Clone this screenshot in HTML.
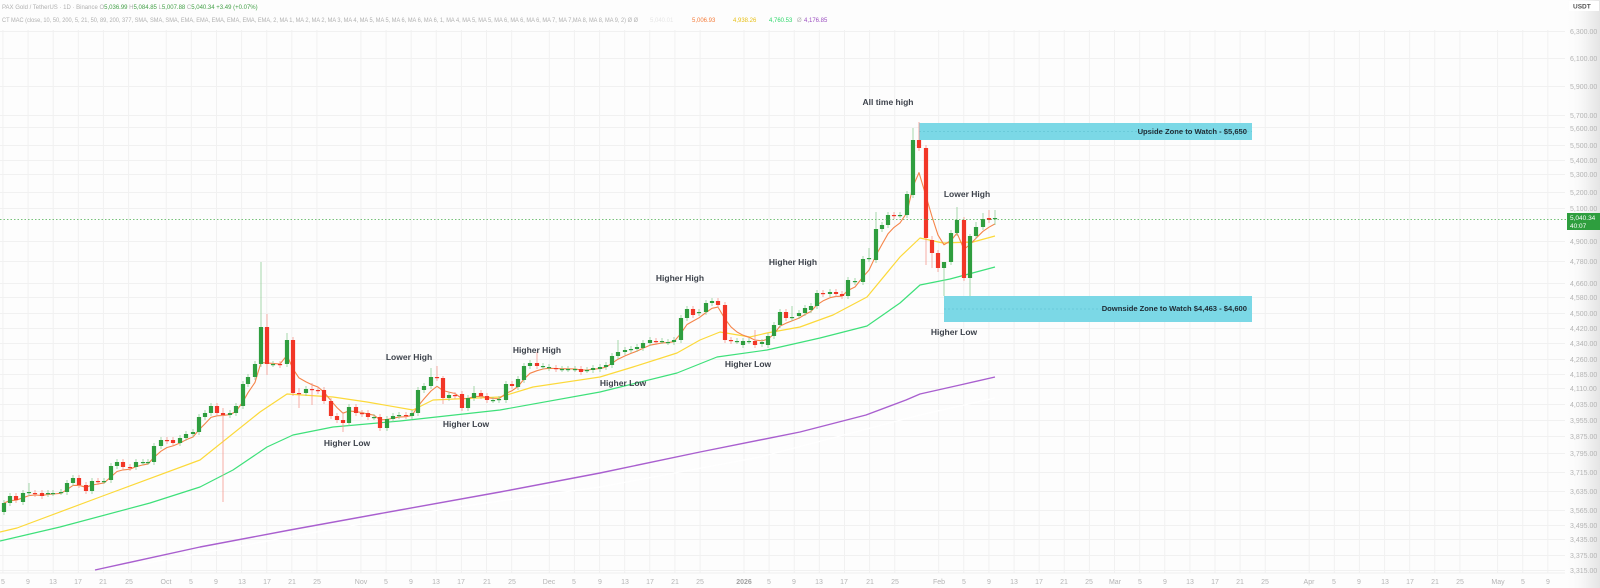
<!DOCTYPE html>
<html><head><meta charset="utf-8">
<style>
html,body{margin:0;padding:0;background:#fdfdfd;}
svg{display:block;font-family:"Liberation Sans",sans-serif;}
.ax{font-size:7px;fill:#b4b4b4;}
.dt{font-size:7px;fill:#b4b4b4;text-anchor:middle;}
.an{font-size:8.5px;fill:#3d424b;font-weight:bold;text-anchor:middle;}
.zn{font-size:7.6px;fill:#1e2a33;font-weight:bold;text-anchor:end;}
.hd{font-size:6px;fill:#b0b0b0;}
</style></head><body>
<svg id="s" width="1600" height="588" viewBox="0 0 1600 588" xmlns="http://www.w3.org/2000/svg">
<defs><linearGradient id="g" x1="0" x2="1"><stop offset="0" stop-color="#fdfdfd" stop-opacity="0"/><stop offset="0.6" stop-color="#f3f3f3"/><stop offset="1" stop-color="#e4e4e4"/></linearGradient></defs>
<rect width="1600" height="588" fill="#fdfdfd"/>
<g id="grid" stroke="#f1f1f1" stroke-width="1"></g>
<line x1="0" y1="573" x2="1565" y2="573" stroke="#eeeeee"/>
<rect x="1565" y="0" width="35" height="588" fill="url(#g)"/>

<rect x="919" y="123" width="333" height="17" fill="#7bd8e6"/>
<line x1="919" y1="131.5" x2="1252" y2="131.5" stroke="#5bbccc" stroke-dasharray="2,2" stroke-width="0.6"/>
<rect x="944" y="296" width="308" height="26" fill="#7bd8e6"/>
<line x1="944" y1="309" x2="1252" y2="309" stroke="#5bbccc" stroke-dasharray="2,2" stroke-width="0.6"/>

<g id="lines" fill="none"></g>
<g id="candles"></g>

<line x1="0" y1="219.5" x2="1567" y2="219.5" stroke="#4caf50" stroke-dasharray="1.5,2" stroke-width="0.7"/>

<text class="zn" x="1247" y="134">Upside Zone to Watch - $5,650</text>
<text class="zn" x="1247" y="311">Downside Zone to Watch $4,463 - $4,600</text>

<text class="an" x="888" y="105">All time high</text>
<text class="an" x="967" y="197">Lower High</text>
<text class="an" x="954" y="335">Higher Low</text>
<text class="an" x="793" y="265">Higher High</text>
<text class="an" x="680" y="281">Higher High</text>
<text class="an" x="537" y="353">Higher High</text>
<text class="an" x="409" y="360">Lower High</text>
<text class="an" x="623" y="386">Higher Low</text>
<text class="an" x="748" y="367">Higher Low</text>
<text class="an" x="466" y="427">Higher Low</text>
<text class="an" x="347" y="446">Higher Low</text>

<text class="hd" x="2" y="9">PAX Gold / TetherUS · 1D · Binance  O<tspan style="fill:#43a047">5,036.99</tspan> H<tspan style="fill:#43a047">5,084.85</tspan> L<tspan style="fill:#43a047">5,007.88</tspan> C<tspan style="fill:#43a047">5,040.34</tspan> <tspan style="fill:#43a047">+3.49 (+0.07%)</tspan></text>
<text class="hd" x="2" y="22" textLength="636" lengthAdjust="spacingAndGlyphs">CT MAC (close, 10, 50, 200, 5, 21, 50, 89, 200, 377, SMA, SMA, SMA, EMA, EMA, EMA, EMA, EMA, EMA, 2, MA 1, MA 2, MA 2, MA 3, MA 4, MA 5, MA 5, MA 6, MA 6, MA 6, 1, MA 4, MA 5, MA 5, MA 6, MA 6, MA 6, MA 7, MA 7,MA 8, MA 8, MA 9, 2)  Ø  Ø</text>
<text class="hd" x="650" y="22" style="fill:#e6e6e6">5,040.01</text>
<text class="hd" x="692" y="22" style="fill:#f57c3a">5,006.93</text>
<text class="hd" x="733" y="22" style="fill:#e8c018">4,938.26</text>
<text class="hd" x="769" y="22" style="fill:#2ed86a">4,760.53</text>
<text class="hd" x="797" y="22">Ø</text>
<text class="hd" x="804" y="22" style="fill:#9c4fc0">4,176.85</text>

<rect x="1569" y="1" width="30" height="10" fill="#ffffff"/>
<text x="1573" y="8.5" style="font-size:6.5px;fill:#555;font-weight:bold">USDT</text>
<g class="ax">
<text x="1570" y="34">6,300.00</text>
<text x="1570" y="61">6,100.00</text>
<text x="1570" y="89">5,900.00</text>
<text x="1570" y="118">5,700.00</text>
<text x="1570" y="131">5,600.00</text>
<text x="1570" y="148">5,500.00</text>
<text x="1570" y="163">5,400.00</text>
<text x="1570" y="177">5,300.00</text>
<text x="1570" y="195">5,200.00</text>
<text x="1570" y="211">5,100.00</text>
<text x="1570" y="244">4,900.00</text>
<text x="1570" y="264">4,780.00</text>
<text x="1570" y="286">4,660.00</text>
<text x="1570" y="300">4,580.00</text>
<text x="1570" y="316">4,500.00</text>
<text x="1570" y="331">4,420.00</text>
<text x="1570" y="346">4,340.00</text>
<text x="1570" y="362">4,260.00</text>
<text x="1570" y="377">4,185.00</text>
<text x="1570" y="391">4,110.00</text>
<text x="1570" y="407">4,035.00</text>
<text x="1570" y="423">3,955.00</text>
<text x="1570" y="439">3,875.00</text>
<text x="1570" y="456">3,795.00</text>
<text x="1570" y="475">3,715.00</text>
<text x="1570" y="494">3,635.00</text>
<text x="1570" y="513">3,565.00</text>
<text x="1570" y="528">3,495.00</text>
<text x="1570" y="542">3,435.00</text>
<text x="1570" y="558">3,375.00</text>
<text x="1570" y="573">3,315.00</text>
</g>
<rect x="1567" y="213" width="33" height="17" fill="#2e9e3e"/>
<text x="1570" y="220" style="font-size:6.5px;fill:#fff">5,040.34</text>
<text x="1570" y="228" style="font-size:6.5px;fill:#fff">40:07</text>

<g class="dt">
<text x="3" y="584">5</text><text x="28" y="584">9</text><text x="53" y="584">13</text><text x="78" y="584">17</text><text x="103" y="584">21</text><text x="129" y="584">25</text>
<text x="166" y="584">Oct</text><text x="191" y="584">5</text><text x="216" y="584">9</text><text x="242" y="584">13</text><text x="267" y="584">17</text><text x="292" y="584">21</text><text x="317" y="584">25</text>
<text x="361" y="584">Nov</text><text x="386" y="584">5</text><text x="411" y="584">9</text><text x="436" y="584">13</text><text x="461" y="584">17</text><text x="487" y="584">21</text><text x="512" y="584">25</text>
<text x="549" y="584">Dec</text><text x="574" y="584">5</text><text x="600" y="584">9</text><text x="625" y="584">13</text><text x="650" y="584">17</text><text x="675" y="584">21</text><text x="700" y="584">25</text>
<text x="744" y="584" style="font-weight:bold;fill:#a0a0a0">2026</text><text x="769" y="584">5</text><text x="794" y="584">9</text><text x="819" y="584">13</text><text x="844" y="584">17</text><text x="870" y="584">21</text><text x="895" y="584">25</text>
<text x="939" y="584">Feb</text><text x="964" y="584">5</text><text x="989" y="584">9</text><text x="1014" y="584">13</text><text x="1039" y="584">17</text><text x="1064" y="584">21</text><text x="1089" y="584">25</text>
<text x="1115" y="584">Mar</text><text x="1140" y="584">5</text><text x="1165" y="584">9</text><text x="1190" y="584">13</text><text x="1215" y="584">17</text><text x="1240" y="584">21</text><text x="1265" y="584">25</text>
<text x="1309" y="584">Apr</text><text x="1334" y="584">5</text><text x="1359" y="584">9</text><text x="1385" y="584">13</text><text x="1410" y="584">17</text><text x="1435" y="584">21</text><text x="1460" y="584">25</text>
<text x="1498" y="584">May</text><text x="1523" y="584">5</text><text x="1548" y="584">9</text>
</g>
</svg>
<script>
var NS="http://www.w3.org/2000/svg";
function el(p,t,a){var e=document.createElementNS(NS,t);for(var k in a)e.setAttribute(k,a[k]);p.appendChild(e);return e;}
var g=document.getElementById('grid');
var days=[-118,-114,-110,-106,-102,-98,-92,-88,-84,-80,-76,-72,-68,-61,-57,-53,-49,-45,-41,-37,-31,-27,-23,-19,-15,-11,-7,0,4,8,12,16,20,24,31,35,39,43,47,51,55,59,63,67,71,75,79,83,90,94,98,102,106,110,114,120,124,128];
days.forEach(function(d){var x=744+6.28*d;el(g,'line',{x1:x,y1:30,x2:x,y2:573});});
[32,59,87,116,128,146,161,175,193,209,242,262,284,298,314,329,344,360,375,389,405,421,437,454,473,492,511,526,540,556,571].forEach(function(y){el(g,'line',{x1:0,y1:y-0.5,x2:1565,y2:y-0.5});});
var C=[[4,512,503],[10,503,496],[16,496,500],[23,502,493],[29,493,492,483],[35,493,494],[42,493,496],[48,494,493],[53,493,493],[61,492,492],[67,492,483],[73,483,478],[79,478,485],[86,485,491],[92,491,481],[98,481,482],[104,481,481],[111,480,466],[117,466,462],[123,462,467],[130,467,468],[136,467,462],[143,462,462],[148,462,462],[154,462,446],[161,446,440],[167,440,441],[173,440,443],[180,443,438],[186,438,434],[193,434,432],[199,432,417],[205,417,413],[211,413,406],[217,406,413],[223,413,415,408,502],[230,415,413],[236,413,406],[243,406,384],[248,384,377],[255,377,364],[261,364,327,262],[267,327,364,314,375],[273,364,364],[280,364,365],[287,364,340,333],[293,340,393],[299,393,394,388,408],[306,393,389],[312,389,390,383,405],[318,390,391],[324,390,401],[331,401,416],[337,416,420],[343,420,423,412,432],[349,423,407],[356,407,413],[362,413,414],[368,413,417],[374,417,417],[380,417,428],[387,428,419],[393,419,416],[399,416,415],[406,415,416],[412,416,413],[418,413,390],[424,390,386],[431,386,377,368],[437,377,378,366],[443,378,398,376,404],[449,398,395],[455,395,396],[462,394,408],[468,408,398],[474,398,393,386],[481,393,396],[487,396,400],[493,400,400],[499,400,399],[506,400,384],[512,384,386],[518,387,379],[524,380,366],[530,366,363],[537,363,366,352],[543,366,366],[549,368,367],[556,368,369],[562,369,369],[568,369,369],[575,369,369],[581,369,372],[587,370,370],[593,370,368],[600,369,367],[606,367,365],[612,365,356],[618,356,352,340],[625,352,350],[631,350,349],[637,349,347],[643,348,343],[650,343,340],[656,341,342],[662,341,341],[668,342,342],[674,342,340],[681,340,318],[687,318,309],[693,309,315],[699,313,312],[706,312,303],[712,303,301],[718,301,305],[725,305,340],[731,340,341],[737,341,341],[743,345,341],[749,341,341],[755,341,345,330],[762,344,342],[768,345,336],[774,336,325],[780,325,312],[786,312,318],[792,318,317,306],[799,316,313],[805,313,308],[811,310,306],[817,306,293],[823,293,294],[830,294,292],[836,292,294],[842,294,296],[848,296,280],[855,282,281],[863,282,259],[869,259,258,248],[876,260,229,212],[882,229,225],[888,225,215],[894,215,216],[900,215,215],[907,215,194],[913,195,140,128],[919,140,148,122],[926,148,238,145,265],[932,240,253,236,268],[938,253,268,250,272],[944,268,262,262,296],[951,262,233],[957,233,220,207],[964,220,278],[970,278,236,234,296],[976,236,227,222],[983,227,219,213],[989,218,220,210],[995,219,218,210,225]];
var cg=document.getElementById('candles');
C.forEach(function(c){var x=c[0],o=c[1],cl=c[2];var up=cl<=o;var top=Math.min(o,cl),bot=Math.max(o,cl);
var hi=c[3]!==undefined?c[3]:top-3,lo=c[4]!==undefined?c[4]:bot+3;
var col=up?'#2f9e3f':'#f23627',wc=up?'#8fcf96':'#f4998f';
el(cg,'line',{x1:x,y1:hi,x2:x,y2:lo,stroke:wc,'stroke-width':0.8});
el(cg,'rect',{x:x-2.1,y:top,width:4.2,height:Math.max(bot-top,1.2),fill:col});});
var lg=document.getElementById('lines');
function pl(pts,col,w){el(lg,'polyline',{points:pts.map(function(p){return p.join(',')}).join(' '),stroke:col,'stroke-width':w,'stroke-linejoin':'round'});}
pl([[0,541],[60,527],[150,503],[200,487],[233,470],[267,447],[293,435],[333,427],[400,421],[500,410],[600,392],[677,373],[717,357],[767,350],[820,338],[867,326],[900,303],[920,285],[950,279],[995,267]],'#3ee07a',1.2);
pl([[0,532],[17,528],[100,497],[200,460],[260,412],[287,394],[333,397],[367,402],[413,410],[433,400],[500,397],[533,387],[600,377],[633,367],[677,353],[700,340],[720,332],[750,337],[767,333],[800,327],[833,315],[867,297],[900,257],[920,238],[943,243],[973,242],[995,236]],'#fcd93a',1.2);
pl([[95,570],[200,547],[290,530],[400,510],[500,492],[600,473],[700,452],[800,432],[866,415],[906,400],[920,394],[960,385],[995,377]],'#a95fcf',1.4);
pl([[130,566],[300,535],[450,508],[600,487],[760,457],[920,415],[995,398]],'#ffffff',1.2);
var e=C[0][2],pts=[];C.forEach(function(c,i){e=i?e+(c[2]-e)*0.36:c[2];pts.push([c[0],e.toFixed(1)]);});
pl(pts,'#f5854a',1.1);
</script>
</body></html>
